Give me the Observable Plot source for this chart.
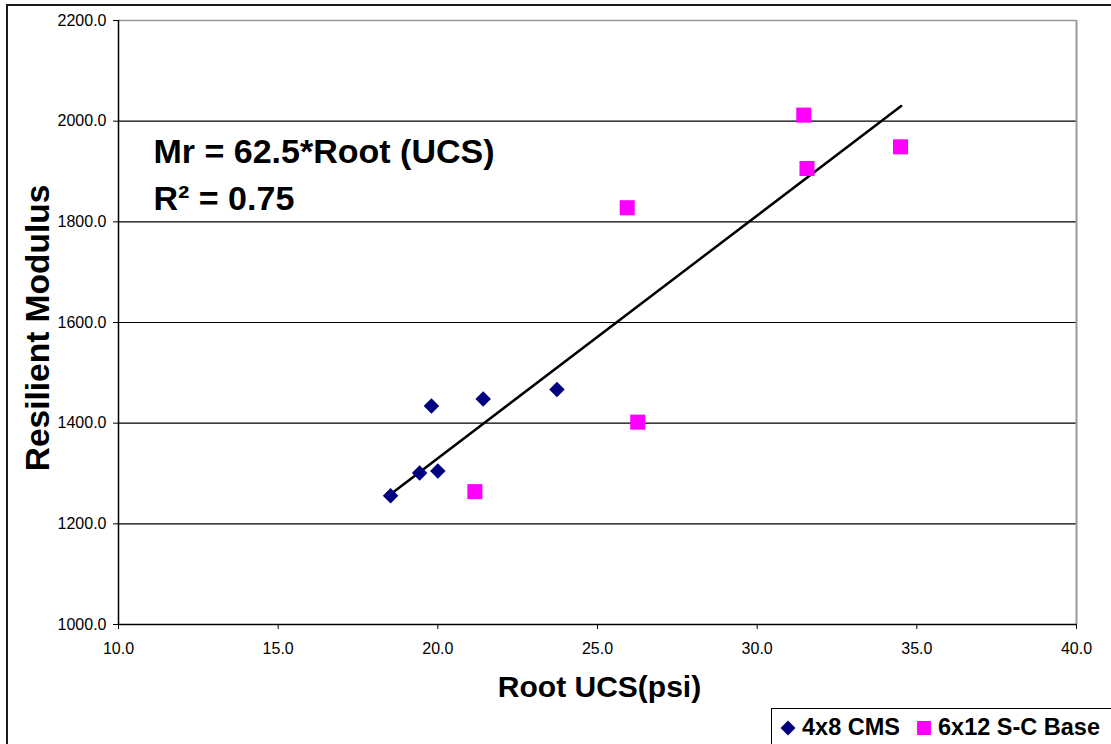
<!DOCTYPE html>
<html>
<head>
<meta charset="utf-8">
<script src="https://cdn.jsdelivr.net/npm/d3@7"></script>
<script src="https://cdn.jsdelivr.net/npm/@observablehq/plot@0.6"></script>
<style>
  html, body { margin: 0; padding: 0; background: #fff; }
  body { width: 1111px; height: 744px; overflow: hidden; position: relative;
         font-family: "Liberation Sans", Arial, sans-serif; }
  #chart { position: absolute; left: 0; top: 0; }
  #outer { position: absolute; left: 6px; top: 4px; width: 2000px; height: 2000px;
           border: 2px solid #1a1a1a; pointer-events: none; }
  #legend { position: absolute; left: 771px; top: 708px; width: 600px; height: 100px;
            border: 1px solid #000; background: #fff; }
  #legend .item { position: absolute; top: 5px; display: flex; align-items: center;
                  font-weight: bold; font-size: 23.5px; color: #000; white-space: nowrap; }
  #legend svg { display: block; margin-right: 6px; }
</style>
</head>
<body>
<div id="chart"></div>
<div id="outer"></div>
<div id="legend"></div>
<script>
// Series: root of unconfined compressive strength (psi) vs. resilient modulus
const cmsRootUCS = [18.52, 19.43, 20.00, 19.80, 21.42, 23.73];
const cmsModulus = [1256, 1301, 1305, 1434, 1448, 1467];
const scbRootUCS = [21.16, 26.26, 25.93, 31.46, 31.56, 34.49];
const scbModulus = [1264, 1402, 1828, 2012, 1906, 1949];

// Fitted trend line end points
const trendRootUCS = [18.52, 34.51];
const trendModulus = [1259, 2030];

const seriesNames = ["4x8 CMS", "6x12 S-C Base"];
const seriesColors = ["#000080", "#FF00FF"];

const xTicks = [10, 15, 20, 25, 30, 35, 40];
const yTicks = [1000, 1200, 1400, 1600, 1800, 2000, 2200];

const cms = cmsRootUCS.map((x, i) => ({x, y: cmsModulus[i]}));
const scb = scbRootUCS.map((x, i) => ({x, y: scbModulus[i]}));
const trend = trendRootUCS.map((x, i) => ({x, y: trendModulus[i]}));

const fmt = d3.format(".1f");

const chart = Plot.plot({
  width: 1111,
  height: 744,
  marginLeft: 118,
  marginRight: 35,
  marginTop: 20,
  marginBottom: 120,
  style: {fontFamily: "'Liberation Sans', Arial, sans-serif", background: "transparent", color: "#000"},
  x: {domain: [10, 40]},
  y: {domain: [1000, 2200]},
  marks: [
    Plot.ruleY(yTicks.slice(1, -1), {stroke: "#000", strokeWidth: 1.2}),
    Plot.ruleY([yTicks[yTicks.length - 1]], {stroke: "#999", strokeWidth: 1.5}),
    Plot.ruleX([xTicks[xTicks.length - 1]], {stroke: "#999", strokeWidth: 2}),
    Plot.axisY({ticks: yTicks, tickFormat: fmt, tickSize: 5, tickPadding: 7, fontSize: 16, label: null}),
    Plot.axisX({ticks: xTicks, tickFormat: fmt, tickSize: 5, tickPadding: 13, fontSize: 16, label: null}),
    Plot.ruleX([xTicks[0]], {stroke: "#000", strokeWidth: 1.5}),
    Plot.ruleY([yTicks[0]], {stroke: "#000", strokeWidth: 1.5}),
    Plot.line(trend, {x: "x", y: "y", stroke: "#000", strokeWidth: 2.5}),
    Plot.dot(cms, {x: "x", y: "y", symbol: "diamond2", r: 7, fill: seriesColors[0], stroke: null}),
    Plot.dot(scb, {x: "x", y: "y", symbol: "square", r: 8.5, fill: seriesColors[1], stroke: null}),
    Plot.text(["Mr = 62.5*Root (UCS)"], {frameAnchor: "top-left", textAnchor: "start", lineAnchor: "middle",
      dx: 35, dy: 132, fontSize: 34, fontWeight: "bold"}),
    Plot.text(["R\u00B2 = 0.75"], {frameAnchor: "top-left", textAnchor: "start", lineAnchor: "middle",
      dx: 35, dy: 179, fontSize: 34, fontWeight: "bold"}),
    Plot.text(["Resilient Modulus"], {frameAnchor: "left", rotate: -90, textAnchor: "middle", lineAnchor: "middle",
      dx: -80, dy: 5.5, fontSize: 33.5, fontWeight: "bold"}),
    Plot.text(["Root UCS(psi)"], {frameAnchor: "bottom", textAnchor: "middle", lineAnchor: "middle",
      dx: 2, dy: 63, fontSize: 30, fontWeight: "bold"})
  ]
});
document.getElementById("chart").append(chart);

// Legend below the plot, at the lower right
const legend = document.getElementById("legend");
const swatches = [
  {left: 8, shape: "M8,0.5L15.5,8L8,15.5L0.5,8Z"},
  {left: 144, shape: "M1,1H15V15H1Z"}
];
seriesNames.forEach((name, i) => {
  const item = document.createElement("div");
  item.className = "item";
  item.style.left = swatches[i].left + "px";
  item.innerHTML = `<svg width="16" height="16" viewBox="0 0 16 16"><path d="${swatches[i].shape}" fill="${seriesColors[i]}"/></svg>`;
  const label = document.createElement("span");
  label.textContent = name;
  item.append(label);
  legend.append(item);
});
</script>
</body>
</html>
